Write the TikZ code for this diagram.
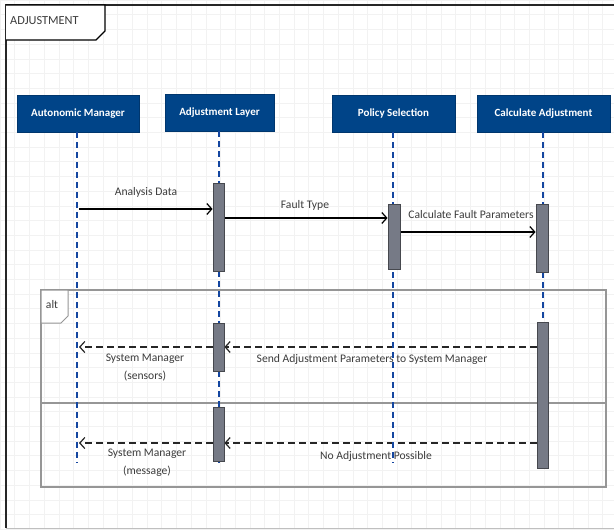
\documentclass[tikz,border=0pt]{standalone}
\usepackage{fontspec}
\setmainfont{Carlito}
\usetikzlibrary{arrows.meta}
\definecolor{headblue}{RGB}{0,68,136}
\definecolor{lifeblue}{RGB}{20,70,160}
\definecolor{actgray}{RGB}{118,122,134}
\definecolor{actedge}{RGB}{70,72,78}
\definecolor{txtgray}{RGB}{60,60,60}
\definecolor{gridgray}{RGB}{242,242,242}
\definecolor{fraggray}{RGB}{150,150,150}
\tikzset{
  head/.style={draw=headblue!80!black, fill=headblue, text=white, font=\bfseries\fontsize{11}{13}\selectfont,
    minimum height=37pt, inner sep=0pt},
  lifeline/.style={draw=lifeblue, line width=1.2pt, dash pattern=on 6pt off 4pt},
  actbar/.style={draw=actedge, fill=actgray, line width=0.8pt, minimum width=11pt, inner sep=0pt},
  call/.style={draw=black, line width=1.3pt, -{Straight Barb[length=5pt,width=11pt,line width=1.2pt]}},
  reply/.style={draw=black!85, line width=1.3pt, dash pattern=on 7pt off 4pt,
    -{Straight Barb[length=5pt,width=11pt,line width=1.2pt]}},
  msglabel/.style={text=txtgray, font=\fontsize{11.6}{14}\selectfont, align=center, inner sep=0pt},
}
\begin{document}
\begin{tikzpicture}[x=1pt,y=-1pt]
\useasboundingbox (0,0) rectangle (614,530);
% background grid
\fill[white] (0,0) rectangle (614,530);
\draw[gridgray, line width=0.5pt] (0,0) grid[step=14.7pt] (614,530);

% outer sequence frame
\draw[black!85, line width=2pt] (6,528) -- (6,5) -- (620,5);
\draw[black!25, line width=1pt] (6,528) -- (620,528);
\draw[black, line width=1.2pt, fill=white] (6,5) -- (105,5) -- (105,31) -- (96,40) -- (6,40);
\node[anchor=west, text=txtgray, font=\fontsize{12.3}{14}\selectfont, inner sep=0pt] (title) at (10,21) {ADJUSTMENT};

% alt combined fragment
\draw[fraggray, line width=1.5pt] (41,290) rectangle (606,487);
\draw[fraggray, line width=1.5pt] (41,403) -- (606,403);
\draw[fraggray, line width=1pt, fill=white] (41,290) -- (68,290) -- (68,316) -- (61,323) -- (41,323) -- cycle;
\node[text=txtgray, font=\fontsize{11.6}{14}\selectfont, inner sep=0pt] (alt) at (52,305) {alt};

% lifeline heads
\node[head, minimum width=122pt] (am) at (78,113.5) {Autonomic Manager};
\node[head, minimum width=109pt] (al) at (219.5,112.5) {Adjustment Layer};
\node[head, minimum width=123pt] (ps) at (393.5,113.5) {Policy Selection};
\node[head, minimum width=133pt] (ca) at (543.5,113.5) {Calculate Adjustment};

% lifeline ends
\coordinate (amEnd) at (77,463);
\coordinate (alEnd) at (219,463);
\coordinate (psEnd) at (393,463);
\coordinate (caEnd) at (543,463);

% messages
\coordinate (amA) at (79,209);
\coordinate (amB) at (79,347);
\coordinate (amC) at (79,443);
\node[actbar, minimum height=88pt] (a1) at (218.5,227) {};
\node[actbar, minimum width=12pt, minimum height=65pt] (a2) at (394,236.5) {};
\node[actbar, minimum width=12pt, minimum height=68pt] (a3) at (542,238) {};
\node[actbar, minimum height=48pt] (a4) at (218.5,347) {};
\node[actbar, minimum height=54pt] (a5) at (218.5,434) {};
\node[actbar, minimum height=146pt] (a6) at (542.5,395) {};

\draw[call] (amA) -- (a1.west |- amA);
\draw[call] (a1.east |- 0,218) -- (a2.west |- 0,218);
\draw[call] (a2.east |- 0,232) -- (a3.west |- 0,232);
\draw[reply] (a6.west |- 0,347) -- (a4.east |- 0,347);
\draw[reply] (a4.west |- 0,347) -- (amB);
\draw[reply] (a6.west |- 0,443) -- (a5.east |- 0,443);
\draw[reply] (a5.west |- 0,443) -- (amC);

\node[msglabel] (l1) at (146,192) {Analysis Data};
\node[msglabel] (l2) at (305,205) {Fault Type};
\node[msglabel] (l3) at (471,215) {Calculate Fault Parameters};
\node[msglabel] (l4) at (372,359) {Send Adjustment Parameters to System Manager};
\node[msglabel] (l5) at (145,367.5) {System Manager\\[4pt](sensors)};
\node[msglabel] (l6) at (376,456) {No Adjustment Possible};
\node[msglabel] (l7) at (147,462.5) {System Manager\\[4pt](message)};

% lifelines
\draw[lifeline] (am.south -| amEnd) -- (amEnd);
\draw[lifeline] (al.south -| alEnd) -- (alEnd);
\draw[lifeline] (ps.south -| psEnd) -- (psEnd);
\draw[lifeline] (ca.south -| caEnd) -- (caEnd);

% activation bars drawn over the lifelines
\node[actbar, minimum height=88pt] at (a1) {};
\node[actbar, minimum width=12pt, minimum height=65pt] at (a2) {};
\node[actbar, minimum width=12pt, minimum height=68pt] at (a3) {};
\node[actbar, minimum height=48pt] at (a4) {};
\node[actbar, minimum height=54pt] at (a5) {};
\node[actbar, minimum height=146pt] at (a6) {};
\end{tikzpicture}
\end{document}
